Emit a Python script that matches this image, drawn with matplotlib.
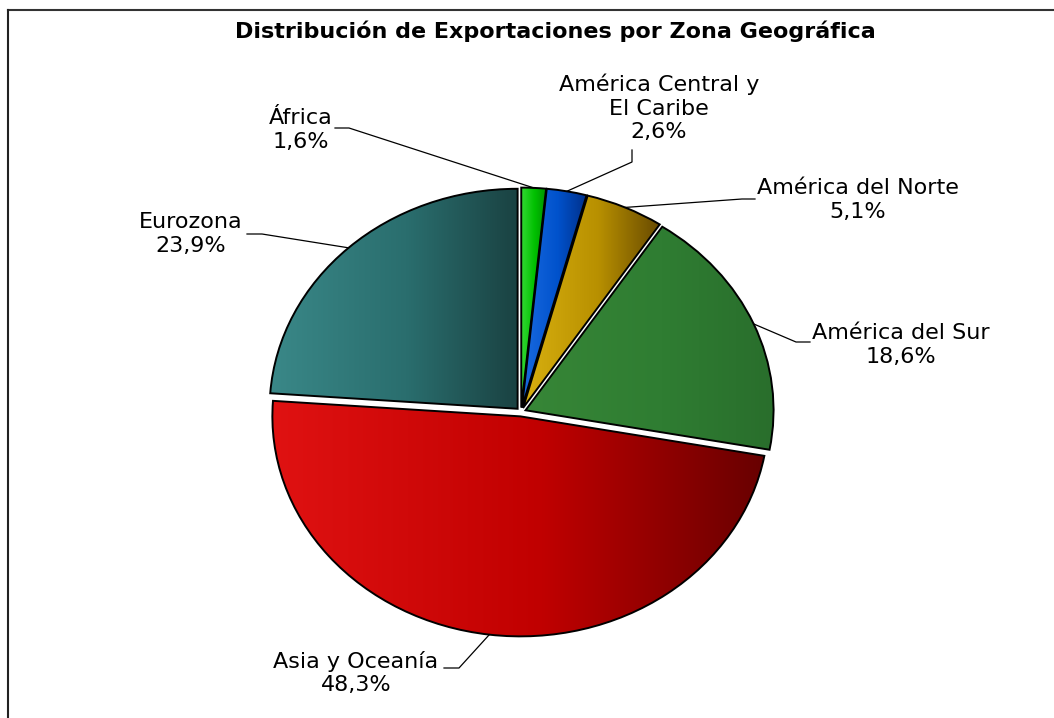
import matplotlib
matplotlib.use('Agg')
import matplotlib.pyplot as plt
import numpy as np
from matplotlib.colors import LinearSegmentedColormap
from matplotlib.lines import Line2D

# Data
zones = ['África', 'América Central y\nEl Caribe', 'América del Norte',
         'América del Sur', 'Asia y Oceanía', 'Eurozona']
shares = [1.6, 2.6, 5.1, 18.6, 48.3, 23.9]

# left -> middle -> right shade for each slice (horizontal gradient)
shades = [['#34d834', '#00c000', '#009400'],
          ['#1a6ae0', '#0052cc', '#00308a'],
          ['#d8b010', '#b89000', '#684a00'],
          ['#378637', '#2f7d32', '#296e2c'],
          ['#e01212', '#c00000', '#680000'],
          ['#3a8888', '#2a6e6e', '#1a4242']]

# label block centres and leader-line elbows, in image pixels (x, y from top)
label_pos = [(301, 130), (659, 108), (858, 200), (901, 345), (356, 673), (191, 234)]
leader_start = [(335, 128), (632, 150), (755, 199), (810, 342), (444, 668), (247, 234)]
leader_knee = [(349, 128), (632, 162), (742, 199), (796, 342), (459, 668), (262, 234)]

W, H = 1054, 718
cx, cy = 521, 412      # pie centre in pixels
rx, ry = 248, 220      # pie radii in pixels (slightly flattened)
explode = 0.02


def px(x, y):
    """pixel position -> data coordinates of the full-figure axes"""
    return (x - cx) / rx, (cy - y) / ry


fig = plt.figure(figsize=(W / 100, H / 100), dpi=100)
ax = fig.add_axes([0, 0, 1, 1])

wedges, _ = ax.pie(shares, startangle=90, counterclock=False,
                   explode=[explode] * len(shares),
                   wedgeprops=dict(edgecolor='black', linewidth=1.4))

for w, sh in zip(wedges, shades):
    cmap = LinearSegmentedColormap.from_list('s', list(zip([0, 0.55, 1], sh)))
    bb = w.get_path().get_extents()
    grad = np.linspace(0, 1, 256).reshape(1, -1)
    im = ax.imshow(grad, cmap=cmap, aspect='auto', interpolation='bilinear',
                   extent=(bb.x0, bb.x1, bb.y0, bb.y1), zorder=1)
    im.set_clip_path(w)
    w.set_facecolor('none')
    w.set_zorder(2)

# labels with leader lines to the middle of each slice's arc
total = sum(shares)
start = 90.0
for i, (name, val) in enumerate(zip(zones, shares)):
    mid = np.deg2rad(start - 360 * (sum(shares[:i]) + val / 2) / total)
    ax_ = (1 + explode) * np.cos(mid)
    ay_ = (1 + explode) * np.sin(mid)
    sx, sy = px(*leader_start[i])
    kx, ky = px(*leader_knee[i])
    ax.plot([sx, kx, ax_], [sy, ky, ay_], color='black', lw=0.9, zorder=3)
    lx, ly = px(*label_pos[i])
    ax.text(lx, ly, name + '\n' + f'{val:.1f}%'.replace('.', ','),
            ha='center', va='center', fontsize=16, linespacing=1.22,
            family='DejaVu Sans', color='black', zorder=4)

tx, ty = px(555, 31)
ax.text(tx, ty, 'Distribución de Exportaciones por Zona Geográfica',
        ha='center', va='center', fontsize=16, fontweight='bold',
        family='DejaVu Sans', color='black')

ax.set_aspect('auto')
ax.set_xlim(-cx / rx, (W - cx) / rx)
ax.set_ylim(-(H - cy) / ry, cy / ry)
ax.axis('off')

# chart frame (top and left edges visible in the crop)
fig.add_artist(Line2D([8 / W, 1], [1 - 10 / H, 1 - 10 / H],
                      transform=fig.transFigure, color='#333333', lw=1.5))
fig.add_artist(Line2D([8 / W, 8 / W], [0, 1 - 10 / H],
                      transform=fig.transFigure, color='#222222', lw=1.5))

fig.savefig('out.png', dpi=100)
